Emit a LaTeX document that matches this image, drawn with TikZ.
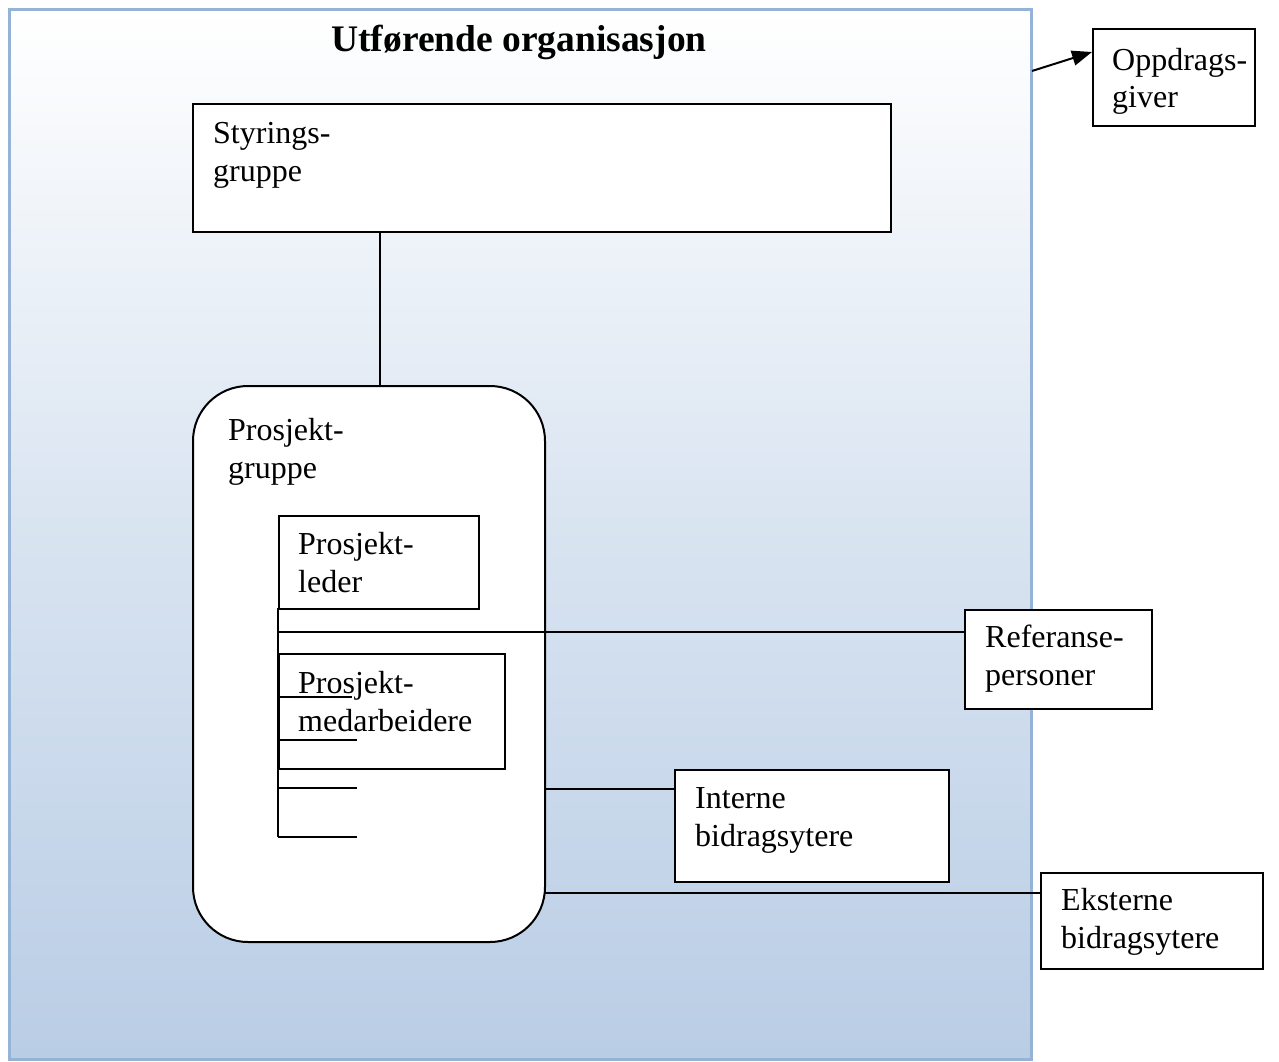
\documentclass[tikz,border=0pt]{standalone}
\usepackage{fontspec}
\setmainfont{Liberation Serif}
\usetikzlibrary{arrows.meta}
\definecolor{orgborder}{RGB}{149,179,215}
\definecolor{orgfill}{RGB}{185,205,229}
\tikzset{
  box/.style={draw=black, line width=2pt, fill=white, inner sep=0pt, anchor=north west},
  txt/.style={anchor=base west, inner sep=0pt, align=left, font=\fontsize{32}{37.5}\selectfont},
  conn/.style={draw=black, line width=2pt},
}
\begin{document}
\begin{tikzpicture}[x=1pt,y=-1pt]
\useasboundingbox (0,0) rectangle (1279,1062);
% outer organisation
\node[anchor=north west, inner sep=0pt, minimum width=1022pt, minimum height=1050pt,
      draw=orgborder, line width=3pt, top color=white, bottom color=orgfill,
      middle color=white!45!orgfill, shading angle=0] (org) at (8,8) {};
\node[anchor=base, inner sep=0pt, font=\fontsize{37.5}{40}\selectfont\bfseries] (title) at (519,52) {Utførende organisasjon};
% boxes
\node[box, minimum width=698pt, minimum height=128pt] (styr) at (192,103) {};
\node[txt] (styrt) at (213,181) {Styrings-\\gruppe};
\node[box, rounded corners=55pt, minimum width=352pt, minimum height=556pt] (pg) at (192,385) {};
\node[txt] (pgt) at (228,478) {Prosjekt-\\gruppe};
\node[box, minimum width=200pt, minimum height=93pt] (leder) at (278,515) {};
\node[txt] (ledert) at (298,592) {Prosjekt-\\leder};
\node[box, fill=none, minimum width=226pt, minimum height=115pt] (med) at (278,653) {};
\node[txt] (medt) at (298,731) {Prosjekt-\\medarbeidere};
\node[box, minimum width=187pt, minimum height=99pt] (ref) at (964,609) {};
\node[txt] (reft) at (985,685) {Referanse-\\personer};
\node[box, minimum width=274pt, minimum height=112pt] (int) at (674,769) {};
\node[txt] (intt) at (695,846) {Interne\\bidragsytere};
\node[box, minimum width=222pt, minimum height=96pt] (eks) at (1040,872) {};
\node[txt] (ekst) at (1061,948) {Eksterne\\bidragsytere};
\node[box, minimum width=162pt, minimum height=97pt] (opp) at (1092,28) {};
\node[txt] (oppt) at (1112,108) {Oppdrags-\\giver};
% connectors
\coordinate (s1) at (380,231);
\draw[conn] (s1) -- (s1 |- pg.north);
\coordinate (v0) at (278,608);
\coordinate (v1) at (278,837);
\draw[conn] (v0) -- (v1);
\coordinate (h1) at (278,632);
\draw[conn] (h1) -- (h1 -| ref.west);
\coordinate (a1) at (278,697); \coordinate (a2) at (352,697);
\coordinate (b1) at (278,740); \coordinate (b2) at (357,740);
\coordinate (c1) at (278,788); \coordinate (c2) at (357,788);
\coordinate (d1) at (278,837); \coordinate (d2) at (357,837);
\draw[conn] (a1) -- (a2);
\draw[conn] (b1) -- (b2);
\draw[conn] (c1) -- (c2);
\draw[conn] (d1) -- (d2);
\coordinate (i1) at (544,789);
\draw[conn] (i1) -- (i1 -| int.west);
\coordinate (e1) at (544,893);
\draw[conn] (e1) -- (e1 -| eks.west);
\coordinate (o1) at (1032,71);
\coordinate (o2) at (1092,52);
\draw[conn, -{Triangle[length=20pt,width=15pt]}] (o1) -- (o2);
\end{tikzpicture}
\end{document}
